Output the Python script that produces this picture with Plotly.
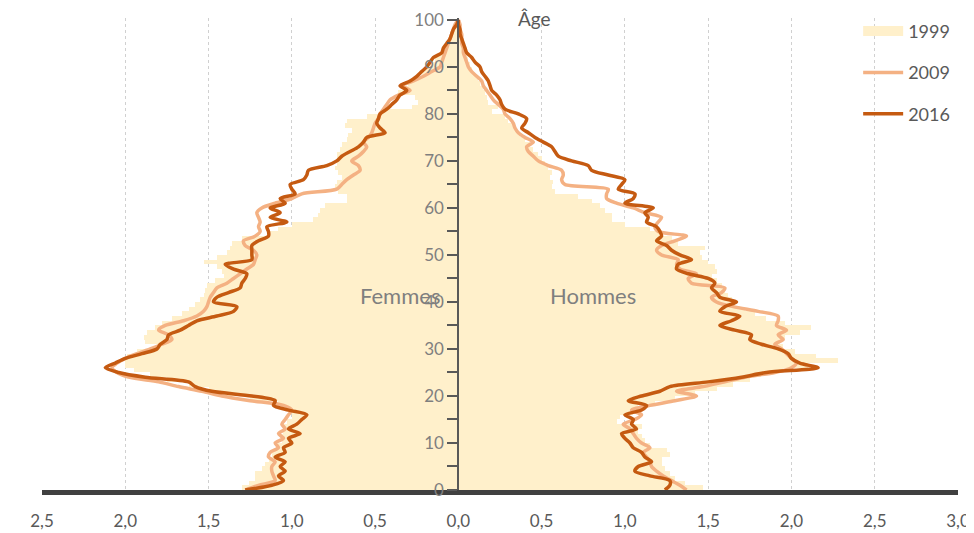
import plotly.graph_objects as go

ages = list(range(0, 101))

# Femmes (share of population, %), ages 0..100
f1999 = [1.30, 1.26, 1.22, 1.22, 1.18, 1.16, 1.14, 1.12, 1.10, 1.08,
         1.06, 1.07, 1.05, 1.05, 1.03, 1.00, 1.00, 1.02, 1.08, 1.25,
         1.40, 1.50, 1.62, 1.75, 1.85, 1.95, 2.00, 2.00, 1.99, 1.93,
         1.80, 1.88, 1.89, 1.87, 1.82, 1.78, 1.72, 1.66, 1.62, 1.58,
         1.55, 1.53, 1.52, 1.51, 1.46, 1.41, 1.42, 1.45, 1.53, 1.45,
         1.39, 1.37, 1.36, 1.30, 1.15, 1.08, 1.00, 0.87, 0.84, 0.83,
         0.80, 0.67, 0.67, 0.72, 0.74, 0.73, 0.70, 0.72, 0.74, 0.73,
         0.73, 0.73, 0.71, 0.70, 0.67, 0.66, 0.64, 0.68, 0.67, 0.55,
         0.45, 0.28, 0.24, 0.26, 0.36, 0.33, 0.30, 0.26, 0.22, 0.20,
         0.17, 0.14, 0.12, 0.10, 0.08, 0.06, 0.05, 0.04, 0.03, 0.02,
         0.01]
f2009 = [1.28, 1.20, 1.10, 1.11, 1.12, 1.12, 1.10, 1.14, 1.13, 1.08,
         1.10, 1.05, 1.08, 1.04, 1.06, 1.04, 1.02, 1.00, 1.05, 1.25,
         1.42, 1.54, 1.68, 1.80, 1.98, 2.05, 2.08, 2.05, 2.00, 1.93,
         1.85, 1.78, 1.72, 1.74, 1.80, 1.76, 1.65, 1.57, 1.53, 1.51,
         1.50, 1.49, 1.47, 1.45, 1.39, 1.35, 1.31, 1.27, 1.23, 1.22,
         1.21, 1.23, 1.28, 1.29, 1.22, 1.19, 1.20, 1.19, 1.20, 1.21,
         1.18, 1.10, 1.00, 0.94, 0.73, 0.70, 0.67, 0.63, 0.59, 0.60,
         0.64, 0.60, 0.57, 0.55, 0.57, 0.54, 0.52, 0.51, 0.50, 0.48,
         0.47, 0.45, 0.43, 0.41, 0.36, 0.29, 0.34, 0.27, 0.21, 0.16,
         0.11, 0.10, 0.09, 0.08, 0.07, 0.06, 0.05, 0.04, 0.03, 0.02,
         0.0]
f2016 = [1.28, 1.12, 1.05, 1.08, 1.04, 1.07, 1.04, 1.10, 1.04, 1.05,
         1.00, 1.02, 0.95, 1.02, 0.97, 0.94, 0.91, 1.02, 1.11, 1.10,
         1.24, 1.48, 1.58, 1.62, 1.88, 2.04, 2.12, 2.06, 2.00, 1.90,
         1.81, 1.79, 1.75, 1.74, 1.67, 1.62, 1.57, 1.45, 1.35, 1.33,
         1.47, 1.45, 1.38, 1.31, 1.30, 1.28, 1.27, 1.35, 1.40, 1.24,
         1.24, 1.24, 1.24, 1.20, 1.14, 1.14, 1.15, 1.03, 1.13, 1.07,
         1.13, 1.04, 1.07, 0.98, 1.00, 1.01, 0.93, 0.91, 0.90, 0.79,
         0.73, 0.70, 0.65, 0.60, 0.57, 0.55, 0.44, 0.47, 0.49, 0.48,
         0.47, 0.43, 0.40, 0.37, 0.35, 0.31, 0.35, 0.29, 0.25, 0.22,
         0.19, 0.17, 0.15, 0.10, 0.09, 0.07, 0.05, 0.04, 0.03, 0.01,
         0.0]

# Hommes
m1999 = [1.47, 1.36, 1.30, 1.27, 1.24, 1.22, 1.22, 1.27, 1.25, 1.15,
         1.12, 1.10, 1.08, 1.10, 0.95, 0.97, 1.05, 1.08, 1.18, 1.30,
         1.42, 1.55, 1.65, 1.75, 1.82, 1.95, 2.10, 2.28, 2.15, 2.02,
         1.95, 1.93, 1.96, 2.05, 2.12, 1.96, 1.85, 1.78, 1.72, 1.66,
         1.64, 1.62, 1.60, 1.58, 1.55, 1.52, 1.55, 1.54, 1.50, 1.46,
         1.45, 1.48, 1.32, 1.28, 1.22, 1.15, 1.00, 0.92, 0.92, 0.88,
         0.85, 0.80, 0.72, 0.58, 0.56, 0.57, 0.55, 0.56, 0.54, 0.52,
         0.50, 0.48, 0.45, 0.43, 0.40, 0.37, 0.35, 0.33, 0.30, 0.28,
         0.20, 0.24, 0.18, 0.17, 0.16, 0.15, 0.13, 0.12, 0.10, 0.08,
         0.07, 0.06, 0.05, 0.04, 0.03, 0.02, 0.02, 0.01, 0.01, 0.01,
         0.0]
m2009 = [1.37, 1.33, 1.28, 1.23, 1.19, 1.16, 1.15, 1.13, 1.11, 1.15,
         1.10, 1.07, 1.05, 1.03, 0.99, 1.06, 1.10, 1.04, 1.15, 1.30,
         1.43, 1.31, 1.47, 1.60, 1.72, 1.90, 2.00, 2.03, 2.00, 1.97,
         1.94, 1.90, 1.95, 1.92, 1.97, 1.91, 1.92, 1.92, 1.80, 1.65,
         1.55, 1.52, 1.58, 1.60, 1.40, 1.38, 1.43, 1.33, 1.31, 1.32,
         1.22, 1.19, 1.22, 1.30, 1.37, 1.20, 1.18, 1.20, 1.22, 1.12,
         1.05, 0.95, 0.89, 0.89, 0.90, 0.64, 0.62, 0.63, 0.62, 0.54,
         0.48, 0.45, 0.42, 0.41, 0.45, 0.40, 0.36, 0.34, 0.33, 0.31,
         0.28, 0.27, 0.24, 0.21, 0.19, 0.17, 0.15, 0.14, 0.11, 0.08,
         0.06, 0.05, 0.04, 0.03, 0.03, 0.02, 0.02, 0.02, 0.01, 0.01,
         0.0]
m2016 = [1.24, 1.27, 1.27, 1.15, 1.06, 1.08, 1.16, 1.12, 1.10, 1.05,
         1.03, 1.00, 0.98, 1.07, 1.04, 1.05, 1.00, 1.10, 1.13, 1.02,
         1.10, 1.21, 1.27, 1.50, 1.70, 1.85, 2.16, 2.05, 2.00, 1.98,
         1.92, 1.82, 1.75, 1.76, 1.66, 1.57, 1.64, 1.69, 1.57, 1.60,
         1.67, 1.57, 1.55, 1.52, 1.54, 1.50, 1.38, 1.31, 1.32, 1.40,
         1.33, 1.28, 1.25, 1.19, 1.22, 1.21, 1.19, 1.13, 1.14, 1.12,
         1.17, 1.00, 1.05, 1.06, 0.96, 0.98, 1.00, 0.90, 0.80, 0.78,
         0.68, 0.60, 0.58, 0.56, 0.51, 0.46, 0.42, 0.38, 0.40, 0.41,
         0.36, 0.28, 0.26, 0.25, 0.23, 0.20, 0.19, 0.18, 0.16, 0.14,
         0.13, 0.10, 0.08, 0.05, 0.04, 0.03, 0.02, 0.01, 0.01, 0.0,
         0.0]

x_tickvals = [-2.5, -2.0, -1.5, -1.0, -0.5, 0.0, 0.5, 1.0, 1.5, 2.0, 2.5, 3.0]
x_ticktext = ["2,5", "2,0", "1,5", "1,0", "0,5", "0,0", "0,5", "1,0", "1,5", "2,0", "2,5", "3,0"]

C1999 = "#FFF0CB"
C2009 = "#F4B183"
C2016 = "#C55A11"
FONT = "Lato"

bar_y = [a + 0.5 for a in ages]

fig = go.Figure()
fig.add_trace(go.Bar(y=bar_y, x=[-v for v in f1999], orientation="h", width=1,
                     marker=dict(color=C1999, line=dict(width=0)),
                     name="1999", legendgroup="a", showlegend=False))
fig.add_trace(go.Bar(y=bar_y, x=m1999, orientation="h", width=1,
                     marker=dict(color=C1999, line=dict(width=0)),
                     name="1999", legendgroup="a", showlegend=False))
# legend proxy for 1999 (wide swatch)
fig.add_trace(go.Scatter(x=[None], y=[None], mode="lines", name="1999", legendgroup="a",
                         line=dict(color=C1999, width=13)))
fig.add_trace(go.Scatter(x=[-v for v in f2009], y=ages, mode="lines", name="2009",
                         legendgroup="b", line=dict(color=C2009, width=3.5, shape="spline", smoothing=0.8)))
fig.add_trace(go.Scatter(x=m2009, y=ages, mode="lines", name="2009", legendgroup="b",
                         showlegend=False,
                         line=dict(color=C2009, width=3.5, shape="spline", smoothing=0.8)))
fig.add_trace(go.Scatter(x=[-v for v in f2016], y=ages, mode="lines", name="2016",
                         legendgroup="c", line=dict(color=C2016, width=3.5, shape="spline", smoothing=0.8)))
fig.add_trace(go.Scatter(x=m2016, y=ages, mode="lines", name="2016", legendgroup="c",
                         showlegend=False,
                         line=dict(color=C2016, width=3.5, shape="spline", smoothing=0.8)))

pos = 2.5 / 5.5

# the page adds an 8px body margin, so the figure is sized to fit the window
fig.update_layout(
    width=966, height=525,
    margin=dict(l=34, r=16, t=10, b=43, autoexpand=False),
    paper_bgcolor="white", plot_bgcolor="white",
    barmode="overlay", bargap=0,
    font=dict(family=FONT, color="#595959", size=17),
    xaxis=dict(range=[-2.5, 3.0], tickvals=x_tickvals, ticktext=x_ticktext,
               automargin=False,
               showgrid=True, gridcolor="#D0D0D0", griddash="dot", gridwidth=1,
               zeroline=False, showline=True, linecolor="#404040", linewidth=5,
               ticks="outside", ticklen=12, tickcolor="rgba(0,0,0,0)",
               tickfont=dict(size=17, color="#595959", family=FONT)),
    yaxis=dict(range=[0, 100.4], anchor="free", position=pos, side="left",
               automargin=False,
               showgrid=False, zeroline=False, showline=True, linecolor="#595959",
               linewidth=2, ticks="outside", ticklen=10, tickwidth=2, tickcolor="#595959",
               tickvals=list(range(0, 101, 10)),
               minor=dict(tickvals=list(range(5, 100, 10)), ticks="outside", ticklen=10,
                          tickwidth=2, tickcolor="#595959", showgrid=False),
               tickfont=dict(size=17, color="#7F7F7F", family=FONT)),
    legend=dict(x=0.891, y=1.011, xanchor="left", yanchor="top", bgcolor="rgba(0,0,0,0)",
                font=dict(size=18, color="#595959", family=FONT),
                tracegroupgap=15, itemwidth=40),
    showlegend=True,
    shapes=[dict(type="rect", xref="paper", yref="paper", x0=0.87, x1=1.02, y0=0.742, y1=1.03,
                 fillcolor="white", line=dict(width=0), layer="between")],
    annotations=[
        dict(x=0.46, y=100.4, xref="x", yref="y", text="Âge", showarrow=False,
             font=dict(size=19, color="#595959"), yanchor="middle"),
        dict(x=-0.35, y=41.3, xref="x", yref="y", text="Femmes", showarrow=False,
             font=dict(size=22, color="#7F7F7F")),
        dict(x=0.81, y=41.3, xref="x", yref="y", text="Hommes", showarrow=False,
             font=dict(size=22, color="#7F7F7F")),
    ],
)

fig.write_html("out.html")
